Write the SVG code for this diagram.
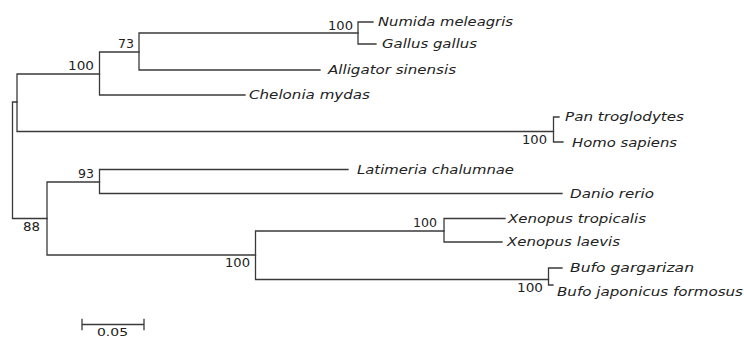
<svg xmlns="http://www.w3.org/2000/svg" width="744" height="338" viewBox="0 0 744 338">
<style>
.br{fill:none;stroke:#3a3a3a;stroke-width:1.3;stroke-linecap:square}
.tx{font-family:"DejaVu Sans","Liberation Sans",sans-serif;font-style:italic;font-size:11.5px;fill:#222}
.bs{font-family:"DejaVu Sans","Liberation Sans",sans-serif;font-size:11.5px;fill:#222;text-anchor:end}
.sc{font-family:"DejaVu Sans","Liberation Sans",sans-serif;font-size:11px;fill:#222}
</style>
<rect width="744" height="338" fill="#fff"/>
<g id="connectors" class="br">
<path d="M12.5,102 V218.5 M12.5,102 H17 M12.5,218.5 H47"/>
<path d="M17,74 V131.5 M17,74 H99.5 M17,131.5 H553.5"/>
<path d="M99.5,52 V95 M99.5,52 H139 M99.5,95 H245"/>
<path d="M139,33 V70 M139,33 H358 M139,70 H320"/>
<path d="M358,22 V44 M358,22 H373 M358,44 H376"/>
<path d="M553.5,117 V142 M553.5,117 H559 M553.5,142 H563"/>
<path d="M47,182 V255 M47,182 H99.5 M47,255 H255.5"/>
<path d="M99.5,169.5 V193.5 M99.5,169.5 H348 M99.5,193.5 H562"/>
<path d="M255.5,231 V279.5 M255.5,231 H444 M255.5,279.5 H548.5"/>
<path d="M444,218.5 V242 M444,218.5 H505 M444,242 H502"/>
<path d="M548.5,268 V285 M548.5,268 H562 M548.5,285 H553"/>
</g>
<g id="numida"><text class="tx" x="378" y="26" textLength="135" lengthAdjust="spacingAndGlyphs">Numida meleagris</text></g>
<g id="gallus"><text class="tx" x="382" y="48" textLength="95" lengthAdjust="spacingAndGlyphs">Gallus gallus</text></g>
<g id="alligator"><text class="tx" x="328" y="74" textLength="128" lengthAdjust="spacingAndGlyphs">Alligator sinensis</text></g>
<g id="chelonia"><text class="tx" x="249" y="99" textLength="121" lengthAdjust="spacingAndGlyphs">Chelonia mydas</text></g>
<g id="pan"><text class="tx" x="565" y="121" textLength="119" lengthAdjust="spacingAndGlyphs">Pan troglodytes</text></g>
<g id="homo"><text class="tx" x="572" y="147" textLength="105" lengthAdjust="spacingAndGlyphs">Homo sapiens</text></g>
<g id="latimeria"><text class="tx" x="357" y="173.5" textLength="157" lengthAdjust="spacingAndGlyphs">Latimeria chalumnae</text></g>
<g id="danio"><text class="tx" x="570" y="197.5" textLength="84" lengthAdjust="spacingAndGlyphs">Danio rerio</text></g>
<g id="xtrop"><text class="tx" x="508" y="222.5" textLength="138" lengthAdjust="spacingAndGlyphs">Xenopus tropicalis</text></g>
<g id="xlaev"><text class="tx" x="507" y="246" textLength="113" lengthAdjust="spacingAndGlyphs">Xenopus laevis</text></g>
<g id="bgarg"><text class="tx" x="570" y="272" textLength="124" lengthAdjust="spacingAndGlyphs">Bufo gargarizan</text></g>
<g id="bjap"><text class="tx" x="557" y="296" textLength="186" lengthAdjust="spacingAndGlyphs">Bufo japonicus formosus</text></g>
<g id="n_birds"><text class="bs" x="353" y="30" textLength="25" lengthAdjust="spacingAndGlyphs">100</text></g>
<g id="n_arch"><text class="bs" x="134" y="48" textLength="16" lengthAdjust="spacingAndGlyphs">73</text></g>
<g id="n_sauro"><text class="bs" x="94" y="70" textLength="26" lengthAdjust="spacingAndGlyphs">100</text></g>
<g id="n_prim"><text class="bs" x="547" y="144" textLength="25" lengthAdjust="spacingAndGlyphs">100</text></g>
<g id="n_fish"><text class="bs" x="94" y="178" textLength="16" lengthAdjust="spacingAndGlyphs">93</text></g>
<g id="n_low"><text class="bs" x="40" y="231" textLength="17" lengthAdjust="spacingAndGlyphs">88</text></g>
<g id="n_anura"><text class="bs" x="250" y="267" textLength="25" lengthAdjust="spacingAndGlyphs">100</text></g>
<g id="n_xen"><text class="bs" x="437" y="227" textLength="24" lengthAdjust="spacingAndGlyphs">100</text></g>
<g id="n_bufo"><text class="bs" x="543" y="292" textLength="26" lengthAdjust="spacingAndGlyphs">100</text></g>
<g id="scalebar">
<path class="br" d="M82,324.5 H144 M82,319.5 V329.5 M144,319.5 V329.5"/>
<text class="sc" x="97" y="336" textLength="31" lengthAdjust="spacingAndGlyphs">0.05</text>
</g>
</svg>
